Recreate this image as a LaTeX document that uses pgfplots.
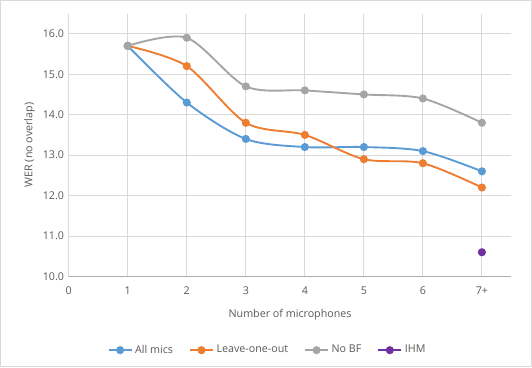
\documentclass[border=0pt]{standalone}
\usepackage{pgfplots}
\pgfplotsset{compat=1.18}
\usepackage{fontspec}
\setmainfont{Open Sans}
\definecolor{cblue}{HTML}{5B9BD5}
\definecolor{corange}{HTML}{ED7D31}
\definecolor{cgray}{HTML}{A5A5A5}
\definecolor{cpurple}{HTML}{7030A0}
\definecolor{txt}{HTML}{595959}
\definecolor{gridc}{HTML}{D9D9D9}
\begin{document}
\begin{tikzpicture}
\begin{axis}[scale only axis,width=330.75pt,height=196.5pt,
 xmin=0,xmax=7.5,ymin=10,ymax=16.5,
 xtick={0,1,2,3,4,5,6,7},xticklabels={0,1,2,3,4,5,6,7+},
 ytick={10,11,12,13,14,15,16},
 yticklabel={\pgfmathprintnumber[fixed,fixed zerofill,precision=1]{\tick}},
 /pgf/number format/assume math mode=true,
 grid=major,major grid style={gridc,line width=0.7pt},
 axis x line*=bottom,axis y line*=left,
 x axis line style={draw=gridc!80!black,line width=0.7pt,-},
 y axis line style={draw=gridc,line width=0.7pt,-},
 major tick length=0pt,
 tick label style={font=\fontsize{8}{9}\selectfont,text=txt},
 xticklabel style={yshift=-4pt},
 xlabel={Number of microphones},ylabel={WER (no overlap)},
 label style={font=\fontsize{8}{9}\selectfont,text=txt},
 xlabel style={yshift=-4pt},ylabel style={yshift=-1pt},
 legend columns=4,
 legend style={at={(rel axis cs:0.45,-0.28)},anchor=center,draw=none,fill=none,
  font=\fontsize{8}{9}\selectfont,text=txt,/tikz/every even column/.append style={column sep=10pt}},
 legend image code/.code={\draw[#1,mark repeat=2,mark phase=2] plot coordinates {(0cm,0cm) (0.3cm,0cm) (0.6cm,0cm)};},
 every axis plot/.append style={line width=1.4pt,mark=*,mark size=2.3pt},
 clip=false]
\addplot[cblue,smooth,tension=0.5] coordinates {(1,15.7)(2,14.3)(3,13.4)(4,13.2)(5,13.2)(6,13.1)(7,12.6)};
\addlegendentry{All mics}
\addplot[corange,smooth,tension=0.5] coordinates {(1,15.7)(2,15.2)(3,13.8)(4,13.5)(5,12.9)(6,12.8)(7,12.2)};
\addlegendentry{Leave-one-out}
\addplot[cgray,smooth,tension=0.5] coordinates {(1,15.7)(2,15.9)(3,14.7)(4,14.6)(5,14.5)(6,14.4)(7,13.8)};
\addlegendentry{No BF}
\addplot[cpurple] coordinates {(7,10.6)};
\addlegendentry{IHM}
\draw[gridc,line width=0.7pt] (rel axis cs:-0.1542,-0.3435) rectangle (rel axis cs:1.0454,1.0496);
\end{axis}
\end{tikzpicture}
\end{document}
